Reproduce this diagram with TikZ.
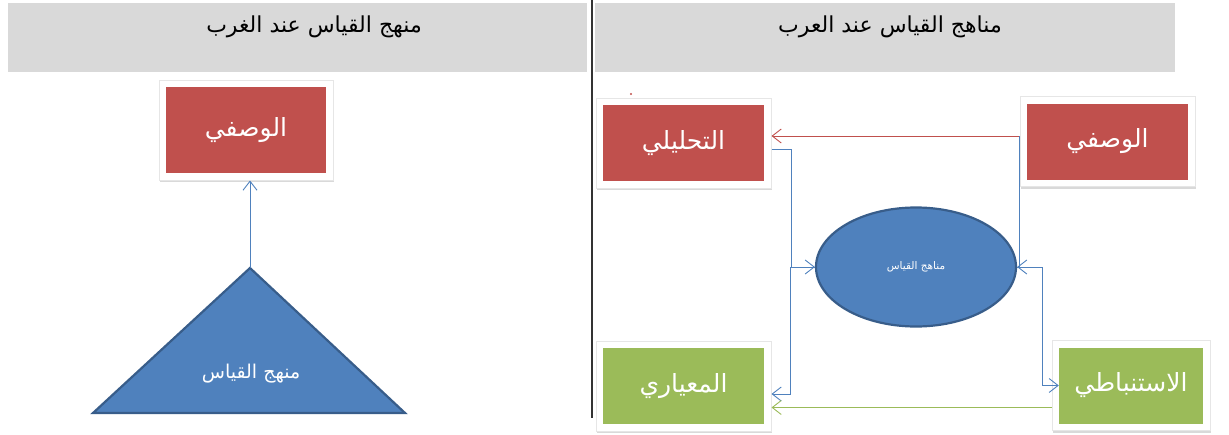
\documentclass[tikz,border=0pt]{standalone}
\usepackage{fontspec}
\newfontfamily\arabicfont[Script=Arabic]{DejaVu Sans}
\TeXXeTstate=1
\usetikzlibrary{arrows.meta,shadows,fit,backgrounds,calc,shapes.geometric}
\definecolor{boxred}{HTML}{C0504D}
\definecolor{boxgreen}{HTML}{9BBB59}
\definecolor{shapeblue}{HTML}{4F81BD}
\definecolor{shapeborder}{HTML}{385D8A}
\definecolor{bandgray}{HTML}{D9D9D9}
\definecolor{framegray}{HTML}{E6E6E6}
\begin{document}
\begin{tikzpicture}[x=1pt,y=-1pt,
  band/.style={fill=bandgray, inner sep=0, minimum height=69},
  title/.style={text=black, inner sep=0, font=\arabicfont\fontsize{22}{26}\selectfont},
  rbox/.style={fill=boxred, text=white, inner sep=0, minimum width=161, minimum height=76,
     font=\arabicfont\fontsize{25}{30}\selectfont},
  gbox/.style={rbox, fill=boxgreen},
  frm/.style={fill=white, draw=framegray, line width=0.6pt, inner sep=7pt,
     drop shadow={shadow xshift=1pt, shadow yshift=-1.8pt, opacity=0.3}},
  ell/.style={ellipse, fill=shapeblue, draw=shapeborder, line width=2.2pt, inner sep=0,
     minimum width=200, minimum height=119, text=white, font=\arabicfont\fontsize{10.5}{12}\selectfont},
  tri/.style={fill=shapeblue, draw=shapeborder, line width=2.2pt, line join=miter},
  tritext/.style={text=white, inner sep=0, font=\arabicfont\fontsize{19}{22}\selectfont},
  barb/.tip={Straight Barb[length=9pt,width=14pt]},
  bline/.style={draw=shapeblue, line width=0.9pt},
  rline/.style={draw=boxred, line width=0.9pt},
  gline/.style={draw=boxgreen, line width=0.9pt},
  divider/.style={draw=black!80, line width=1.4pt}
]
\useasboundingbox (0,0) rectangle (1229,434);

% header bands and titles
\node[band, minimum width=579] (bandL) at (297.5,37.5) {};
\node[band, minimum width=580] (bandR) at (885,37.5) {};
\node[title] (titleL) at (314,27) {\beginR منهج القياس عند الغرب\endR};
\node[title] (titleR) at (890,27) {\beginR مناهج القياس عند العرب\endR};

% divider
\coordinate (divT) at (592,0);
\coordinate (divB) at (592,418);
\draw[divider] (divT) -- (divB);

% right side boxes
\node[rbox] (tah) at (683.5,143) {\beginR التحليلي\endR};
\node[rbox] (wasR) at (1107.5,141.5) {\beginR الوصفي\endR};
\node[gbox] (miy) at (683.5,386) {\beginR المعياري\endR};
\node[gbox, minimum width=144] (ist) at (1131,385.5) {\beginR الاستنباطي\endR};
\node[ell] (el) at (916,267) {\beginR مناهج القياس\endR};

% left side box
\node[rbox, minimum width=160, minimum height=86] (wasL) at (246,130) {\beginR الوصفي\endR};

\begin{scope}[on background layer]
  \node[frm, fit=(tah)] (tahF) {};
  \node[frm, fit=(wasR)] (wasRF) {};
  \node[frm, fit=(miy)] (miyF) {};
  \node[frm, fit=(ist)] (istF) {};
  \node[frm, fit=(wasL)] (wasLF) {};
\end{scope}

% stray mark
\fill[boxred] (631,94) circle (1.2);

% triangle
\coordinate (apex) at (250,268);
\coordinate (triL) at (93,413);
\coordinate (triR) at (405,413);
\filldraw[tri] (triL) -- (apex) -- (triR) -- cycle;
\node[tritext] (triT) at (251,374) {\beginR منهج القياس\endR};

% connectors left
\draw[bline, -{barb}] (apex) -- (apex |- wasLF.south);

% connectors right
\draw[rline, -{barb}] ([yshift=5.5pt]wasRF.west) -- ([yshift=5.5pt]wasRF.west -| tahF.east);
\draw[bline, -{barb}] ([yshift=-6.5pt]tahF.east) -- ++(20,0) |- (el.west);
\draw[bline, -{barb}] (el.west) -- ++(-24,0) |- ([yshift=-8pt]miyF.east);
\draw[bline] ([yshift=5.5pt]wasRF.west) |- (el.east);
\draw[bline, {barb}-{barb}] (el.east) -- ++(25,0) |- (ist.west);
\draw[gline, -{barb}] ([yshift=-22pt]istF.west) -- ([yshift=-22pt]istF.west -| miyF.east);
\end{tikzpicture}
\end{document}
